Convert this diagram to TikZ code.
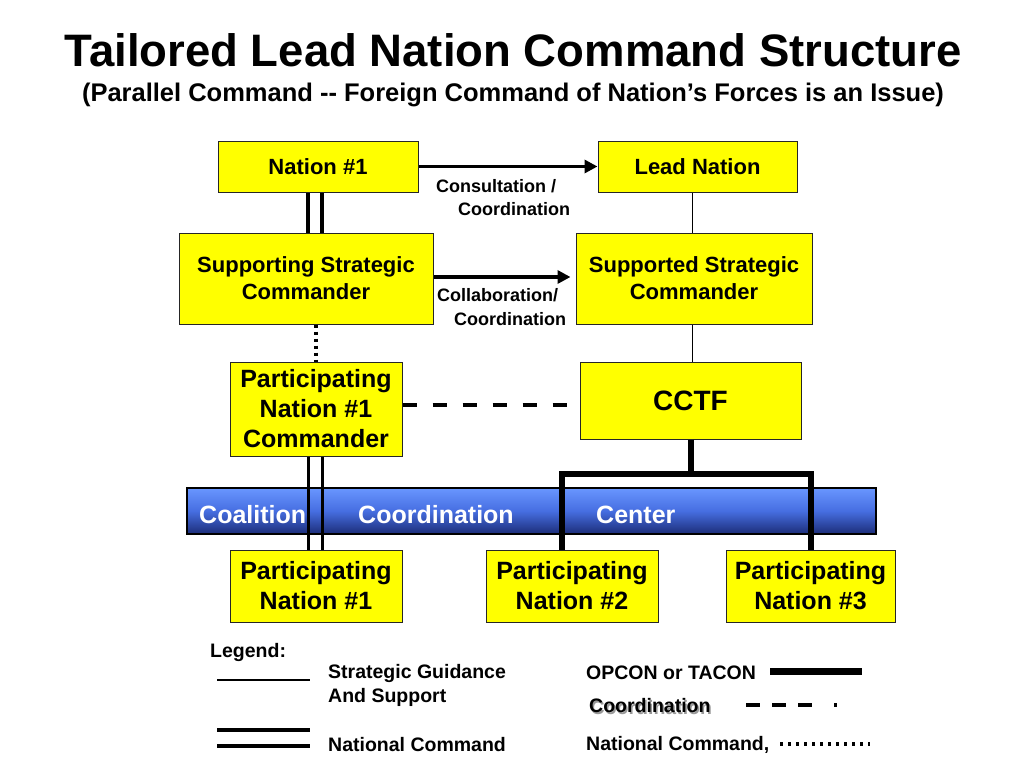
\documentclass[tikz,border=0pt]{standalone}
\usepackage{fontspec}
\setmainfont{Liberation Sans}
\usetikzlibrary{arrows.meta}
\definecolor{boxyellow}{RGB}{255,255,0}
\definecolor{bartop}{RGB}{105,150,255}
\definecolor{barmid}{RGB}{70,110,225}
\definecolor{barbot}{RGB}{28,45,120}
\begin{document}
\begin{tikzpicture}[x=1pt,y=-1pt,
  box/.style={draw=black!85, line width=1pt, fill=boxyellow, inner sep=0pt, align=center, font=\bfseries\fontsize{22}{27}\selectfont},
  bigbox/.style={box, font=\bfseries\fontsize{25}{30}\selectfont},
  lbl/.style={anchor=west, inner sep=0pt, font=\bfseries\fontsize{18}{22}\selectfont},
  legtxt/.style={anchor=west, inner sep=0pt, font=\bfseries\fontsize{19.5}{23}\selectfont},
  bartxt/.style={anchor=west, inner sep=0pt, text=white, font=\bfseries\fontsize{25}{30}\selectfont},
  dbl/.style={line width=3.5pt},
  dblthin/.style={line width=3pt},
  thinline/.style={line width=1pt},
  opcon/.style={line width=6pt},
  coord/.style={line width=3.5pt, dash pattern=on 14pt off 16pt},
  natdot/.style={line width=4pt, dash pattern=on 3pt off 4pt},
  arr/.style={line width=3.5pt, -{Triangle[length=13pt,width=13pt]}}
]
\useasboundingbox (0,0) rectangle (1024,768);
\fill[white] (0,0) rectangle (1024,768);

% title
\node[inner sep=0pt, font=\bfseries\fontsize{45.5}{50}\selectfont] (title) at (513,50) {Tailored Lead Nation Command Structure};
\node[inner sep=0pt, font=\bfseries\fontsize{25.5}{29}\selectfont] (subtitle) at (513,95) {(Parallel Command -{}- Foreign Command of Nation’s Forces is an Issue)};

% coalition coordination center bar
\node[draw=black, line width=2pt, minimum width=689pt, minimum height=46pt, inner sep=0pt,
  top color=bartop, bottom color=barbot, middle color=barmid] (bar) at (531.5,511) {};
\node[bartxt] (bt1) at (199,515) {Coalition};
\node[bartxt] (bt2) at (358,515) {Coordination};
\node[bartxt] (bt3) at (596,515) {Center};

% boxes
\node[box, minimum width=200pt, minimum height=51pt] (n1) at (318,166.5) {Nation \#1};
\node[box, minimum width=199pt, minimum height=51pt] (lead) at (697.5,166.5) {Lead Nation};
\node[box, minimum width=254pt, minimum height=91pt] (ssc) at (306,278.5) {Supporting Strategic\\Commander};
\node[box, minimum width=236pt, minimum height=91pt] (sup) at (694,278.5) {Supported Strategic\\Commander};
\node[bigbox, minimum width=172pt, minimum height=94pt] (pn1c) at (316,409) {Participating\\Nation \#1\\Commander};
\node[box, minimum width=221pt, minimum height=77pt, font=\bfseries\fontsize{28}{32}\selectfont] (cctf) at (690.5,400.5) {CCTF};
\node[bigbox, minimum width=172pt, minimum height=72pt] (pn1) at (316,586) {Participating\\Nation \#1};
\node[bigbox, minimum width=172pt, minimum height=72pt] (pn2) at (572,586) {Participating\\Nation \#2};
\node[bigbox, minimum width=169pt, minimum height=72pt] (pn3) at (810.5,586) {Participating\\Nation \#3};

% connectors
\draw[arr] (n1.east) -- (lead.west);
\node[lbl] (l1a) at (436,186) {Consultation /};
\node[lbl] (l1b) at (458,209) {Coordination};
\draw[arr, shorten >=5pt] ([yshift=1.5pt]ssc.east) -- ([yshift=1.5pt]sup.west);
\node[lbl] (l2a) at (437,295) {Collaboration/};
\node[lbl] (l2b) at (454,319) {Coordination};

\draw[dbl] ([xshift=-10pt]n1.south) -- ([xshift=-10pt]n1.south |- ssc.north);
\draw[dbl] ([xshift=4pt]n1.south) -- ([xshift=4pt]n1.south |- ssc.north);
\draw[thinline] ([xshift=-5.5pt]lead.south) -- ([xshift=-5.5pt]lead.south |- sup.north);
\draw[thinline] ([xshift=-2pt]sup.south) -- ([xshift=-2pt]sup.south |- cctf.north);
\draw[natdot] (ssc.south -| pn1c.north) -- (pn1c.north);

\coordinate (dashend) at (567,405);
\draw[coord] ([yshift=4pt]pn1c.east) -- (dashend);

\draw[dblthin] ([xshift=-8pt]pn1c.south) -- ([xshift=-8pt]pn1c.south |- pn1.north);
\draw[dblthin] ([xshift=6pt]pn1c.south) -- ([xshift=6pt]pn1c.south |- pn1.north);

\coordinate (junc) at (690,474);
\draw[opcon] (cctf.south) -- (cctf.south |- junc);
\draw[opcon, line join=miter] ([xshift=-10pt]pn2.north) |- (junc) -| (pn3.north);

% legend
\node[legtxt] (leg) at (210,652) {Legend:};
\coordinate (lsa) at (217,680);
\coordinate (lsb) at (310,680);
\draw[line width=1.2pt] (lsa) -- (lsb);
\node[legtxt] (lg1) at (328,673) {Strategic Guidance};
\node[legtxt] (lg2) at (328,697) {And Support};
\coordinate (lda) at (217,730);
\coordinate (ldb) at (310,730);
\coordinate (ldc) at (217,746);
\coordinate (ldd) at (310,746);
\draw[line width=4pt] (lda) -- (ldb);
\draw[line width=4pt] (ldc) -- (ldd);
\node[legtxt] (lg3) at (328,745) {National Command};
\node[legtxt] (lg4) at (586,673) {OPCON or TACON};
\coordinate (loa) at (770,671);
\coordinate (lob) at (862,671);
\draw[line width=7pt] (loa) -- (lob);
\node[legtxt, text=black!40] (lg5s) at (590.5,707.5) {Coordination};
\node[legtxt] (lg5) at (589,706) {Coordination};
\coordinate (lca) at (746,705);
\coordinate (lcb) at (838,705);
\draw[line width=3.5pt, dash pattern=on 14pt off 12pt on 14pt off 12pt on 14pt off 22pt on 3pt off 20pt] (lca) -- (lcb);
\node[legtxt] (lg6) at (586,745) {National Command,};
\coordinate (lna) at (780,744);
\coordinate (lnb) at (870,744);
\draw[line width=3.5pt, dash pattern=on 3pt off 5pt] (lna) -- (lnb);
\end{tikzpicture}
\end{document}
